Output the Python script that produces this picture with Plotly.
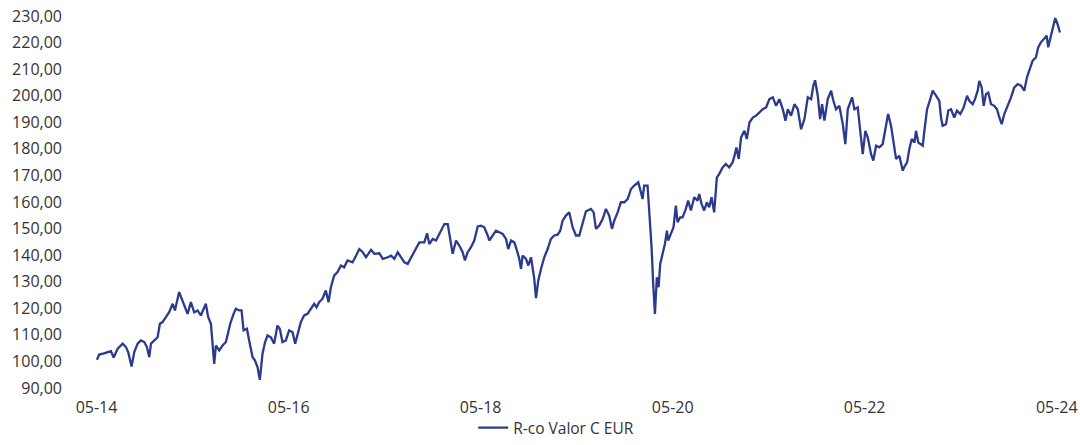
import plotly.graph_objects as go
import pandas as pd

# Decimal-year time stamps and fund NAV values
years = [
    2014.333, 2014.357, 2014.406, 2014.448, 2014.479, 2014.507, 2014.549, 2014.601, 2014.635, 2014.659,
    2014.694, 2014.722, 2014.757, 2014.791, 2014.826, 2014.854, 2014.878, 2014.896, 2014.930, 2014.965,
    2014.989, 2015.017, 2015.052, 2015.086, 2015.122, 2015.146, 2015.190, 2015.215, 2015.242, 2015.278,
    2015.312, 2015.347, 2015.382, 2015.416, 2015.468, 2015.492, 2015.521, 2015.538, 2015.555, 2015.573,
    2015.607, 2015.642, 2015.677, 2015.694, 2015.722, 2015.757, 2015.781, 2015.815, 2015.840, 2015.861,
    2015.896, 2015.919, 2015.955, 2015.979, 2016.007, 2016.031, 2016.059, 2016.086, 2016.111, 2016.146,
    2016.180, 2016.215, 2016.239, 2016.267, 2016.302, 2016.336, 2016.372, 2016.399, 2016.424, 2016.458,
    2016.492, 2016.528, 2016.562, 2016.597, 2016.622, 2016.649, 2016.684, 2016.718, 2016.747, 2016.771,
    2016.805, 2016.840, 2016.875, 2016.909, 2016.944, 2016.997, 2017.031, 2017.065, 2017.101, 2017.135,
    2017.187, 2017.222, 2017.274, 2017.309, 2017.361, 2017.396, 2017.430, 2017.465, 2017.500, 2017.534,
    2017.569, 2017.604, 2017.638, 2017.690, 2017.742, 2017.771, 2017.794, 2017.830, 2017.864, 2017.899,
    2017.951, 2017.986, 2018.003, 2018.038, 2018.073, 2018.107, 2018.142, 2018.166, 2018.194, 2018.229,
    2018.263, 2018.299, 2018.333, 2018.367, 2018.403, 2018.419, 2018.455, 2018.489, 2018.524, 2018.559,
    2018.593, 2018.617, 2018.646, 2018.680, 2018.708, 2018.732, 2018.750, 2018.767, 2018.802, 2018.826,
    2018.854, 2018.872, 2018.888, 2018.906, 2018.930, 2018.958, 2018.992, 2019.028, 2019.062, 2019.097,
    2019.132, 2019.159, 2019.184, 2019.218, 2019.253, 2019.288, 2019.323, 2019.357, 2019.392, 2019.427,
    2019.479, 2019.507, 2019.531, 2019.565, 2019.601, 2019.635, 2019.669, 2019.698, 2019.722, 2019.757,
    2019.791, 2019.826, 2019.861, 2019.896, 2019.930, 2019.972, 2020.000, 2020.017, 2020.034, 2020.069,
    2020.093, 2020.111, 2020.128, 2020.146, 2020.166, 2020.184, 2020.201, 2020.226, 2020.250, 2020.271,
    2020.284, 2020.312, 2020.340, 2020.364, 2020.382, 2020.409, 2020.434, 2020.468, 2020.492, 2020.521,
    2020.555, 2020.590, 2020.607, 2020.632, 2020.659, 2020.687, 2020.711, 2020.736, 2020.763, 2020.791,
    2020.815, 2020.851, 2020.885, 2020.919, 2020.955, 2020.979, 2020.994, 2021.017, 2021.041, 2021.076,
    2021.101, 2021.128, 2021.163, 2021.198, 2021.232, 2021.267, 2021.302, 2021.336, 2021.372, 2021.406,
    2021.440, 2021.476, 2021.503, 2021.528, 2021.562, 2021.597, 2021.632, 2021.666, 2021.701, 2021.736,
    2021.771, 2021.794, 2021.812, 2021.840, 2021.864, 2021.885, 2021.909, 2021.944, 2021.979, 2022.003,
    2022.031, 2022.065, 2022.101, 2022.128, 2022.153, 2022.198, 2022.222, 2022.257, 2022.281, 2022.309,
    2022.336, 2022.361, 2022.396, 2022.419, 2022.448, 2022.482, 2022.517, 2022.552, 2022.573, 2022.604,
    2022.628, 2022.656, 2022.690, 2022.726, 2022.739, 2022.771, 2022.794, 2022.819, 2022.847, 2022.864,
    2022.888, 2022.909, 2022.934, 2022.951, 2022.979, 2023.013, 2023.038, 2023.073, 2023.107, 2023.125,
    2023.142, 2023.177, 2023.201, 2023.229, 2023.263, 2023.291, 2023.326, 2023.361, 2023.396, 2023.419,
    2023.455, 2023.479, 2023.507, 2023.524, 2023.549, 2023.569, 2023.593, 2023.617, 2023.646, 2023.680,
    2023.708, 2023.732, 2023.757, 2023.784, 2023.819, 2023.854, 2023.888, 2023.924, 2023.958, 2023.992,
    2024.021, 2024.044, 2024.080, 2024.114, 2024.138, 2024.166, 2024.201, 2024.226, 2024.242, 2024.271,
    2024.299, 2024.315, 2024.340, 2024.364,
]

nav = [
    100.6, 102.6, 103.0, 103.5, 103.9, 101.5, 104.8, 106.7, 105.4, 103.5,
    98.1, 103.5, 106.7, 107.9, 107.3, 105.4, 101.6, 106.7, 107.9, 109.1,
    114.2, 114.8, 116.7, 118.5, 121.7, 119.2, 126.1, 123.6, 121.1, 117.9,
    122.3, 118.5, 119.2, 117.3, 121.7, 116.7, 114.2, 105.4, 99.1, 106.0,
    104.1, 106.0, 107.3, 109.8, 114.2, 117.9, 119.8, 119.2, 119.2, 111.7,
    112.3, 107.9, 101.6, 100.4, 97.9, 93.1, 102.9, 107.3, 109.8, 109.1,
    106.7, 113.5, 112.3, 107.3, 107.9, 111.7, 111.0, 106.7, 110.4, 114.8,
    117.3, 117.9, 119.8, 121.7, 120.4, 122.3, 123.6, 126.7, 122.3, 127.9,
    132.3, 133.6, 136.1, 135.4, 138.0, 137.3, 139.8, 142.3, 141.1, 139.2,
    142.0, 140.5, 140.7, 138.6, 139.2, 139.8, 138.6, 141.1, 139.2, 137.3,
    136.7, 139.2, 141.7, 144.8, 144.8, 148.2, 144.2, 146.1, 145.5, 148.0,
    151.7, 151.7, 148.0, 140.5, 145.5, 143.6, 141.1, 138.0, 141.1, 143.0,
    145.5, 150.8, 151.1, 150.5, 147.4, 145.5, 147.4, 149.2, 148.6, 148.0,
    146.1, 142.3, 145.5, 144.8, 141.7, 138.6, 134.8, 139.8, 138.6, 136.1,
    139.2, 134.2, 131.1, 123.8, 130.5, 134.8, 139.2, 142.3, 146.1, 147.4,
    147.7, 149.2, 153.0, 154.9, 156.1, 150.5, 147.4, 147.4, 152.0, 156.5,
    157.4, 156.1, 149.9, 151.1, 153.6, 157.4, 154.9, 149.9, 153.0, 156.1,
    159.9, 159.9, 161.1, 164.9, 166.2, 167.4, 163.7, 161.1, 166.2, 166.2,
    153.0, 143.0, 129.2, 117.9, 131.7, 127.9, 136.7, 140.5, 144.2, 149.2,
    145.5, 148.0, 150.5, 158.6, 152.4, 154.2, 154.2, 157.4, 160.5, 156.8,
    161.8, 160.5, 163.0, 159.2, 156.8, 159.9, 158.0, 161.8, 156.1, 169.3,
    170.5, 173.0, 174.3, 173.0, 174.9, 178.0, 180.5, 176.2, 184.3, 186.8,
    183.7, 189.9, 191.8, 192.5, 193.7, 194.9, 195.6, 198.7, 199.4, 196.2,
    198.7, 194.9, 190.6, 194.9, 192.5, 196.8, 194.9, 187.4, 191.2, 199.4,
    198.7, 203.8, 205.8, 200.0, 191.2, 196.8, 190.6, 198.7, 201.9, 198.1,
    194.9, 196.2, 189.3, 181.8, 194.9, 199.4, 194.9, 195.6, 187.4, 178.0,
    186.8, 184.3, 178.0, 175.6, 181.2, 180.6, 181.8, 189.3, 193.1, 188.7,
    183.1, 176.2, 177.4, 171.8, 173.0, 174.9, 179.9, 183.7, 182.4, 186.8,
    182.4, 181.8, 181.2, 186.8, 194.9, 198.7, 201.9, 200.0, 198.1, 191.8,
    188.7, 189.3, 194.4, 194.9, 191.8, 194.4, 193.1, 195.6, 200.0, 198.1,
    196.8, 198.7, 201.9, 205.6, 203.1, 196.2, 200.6, 201.2, 196.8, 196.2,
    194.9, 191.8, 189.3, 193.1, 196.2, 199.4, 203.1, 204.4, 203.8, 201.9,
    206.9, 209.4, 213.2, 214.4, 218.2, 220.1, 221.4, 222.6, 218.2, 222.6,
    225.7, 229.2, 226.9, 223.8,
]

tick_dates = ["2014-05-01", "2016-05-01", "2018-05-01", "2020-05-01", "2022-05-01", "2024-05-01"]
y_ticks = [90, 100, 110, 120, 130, 140, 150, 160, 170, 180, 190, 200, 210, 220, 230]
series_name = "R-co Valor C EUR"


def to_date(y):
    yr = int(y)
    return pd.Timestamp(year=yr, month=1, day=1) + pd.Timedelta(days=(y - yr) * 365.25)


dates = [to_date(v) for v in years]

fig = go.Figure()
fig.add_trace(go.Scatter(
    x=dates, y=nav, mode="lines", name=series_name,
    line=dict(color="#2B3A8C", width=2.3),
    showlegend=True,
))

font_family = "Open Sans"
txt = "#333333"
fig.update_layout(
    width=1080, height=445,
    margin=dict(l=63, r=10, t=16, b=57),
    paper_bgcolor="white", plot_bgcolor="white",
    separators=",.",
    font=dict(family=font_family, size=16, color=txt),
    xaxis=dict(
        type="date", automargin=False,
        range=[to_date(2013.979), to_date(2024.469)],
        tickvals=tick_dates, tickformat="%m-%y",
        showgrid=False, zeroline=False, showline=False,
        ticks="outside", ticklen=5, tickcolor="rgba(0,0,0,0)",
        tickfont=dict(size=16, color=txt),
    ),
    yaxis=dict(
        automargin=False,
        range=[90, 230], tickvals=y_ticks, tickformat=".2f",
        showgrid=False, zeroline=False, showline=False,
        ticks="", tickfont=dict(size=16, color=txt),
    ),
    showlegend=True,
    legend=dict(
        orientation="h",
        xref="container", yref="container",
        x=0.515, xanchor="center", y=0.0, yanchor="bottom",
        borderwidth=0, bgcolor="rgba(0,0,0,0)",
        font=dict(size=15.5, color=txt),
    ),
)

page_fix = (
    "document.documentElement.style.margin='0';"
    "document.documentElement.style.padding='0';"
    "document.documentElement.style.overflow='hidden';"
    "document.documentElement.style.height='445px';"
    "document.body.style.margin='0';"
    "document.body.style.padding='0';"
    "document.body.style.overflow='hidden';"
    "document.body.style.height='445px';"
    "var w=document.body.firstElementChild;"
    "if(w){w.style.height='445px';w.style.overflow='hidden';w.style.lineHeight='0';w.style.fontSize='0';}"
)

fig.write_html(
    "out.html",
    config={"displayModeBar": False},
    post_script=page_fix,
)
